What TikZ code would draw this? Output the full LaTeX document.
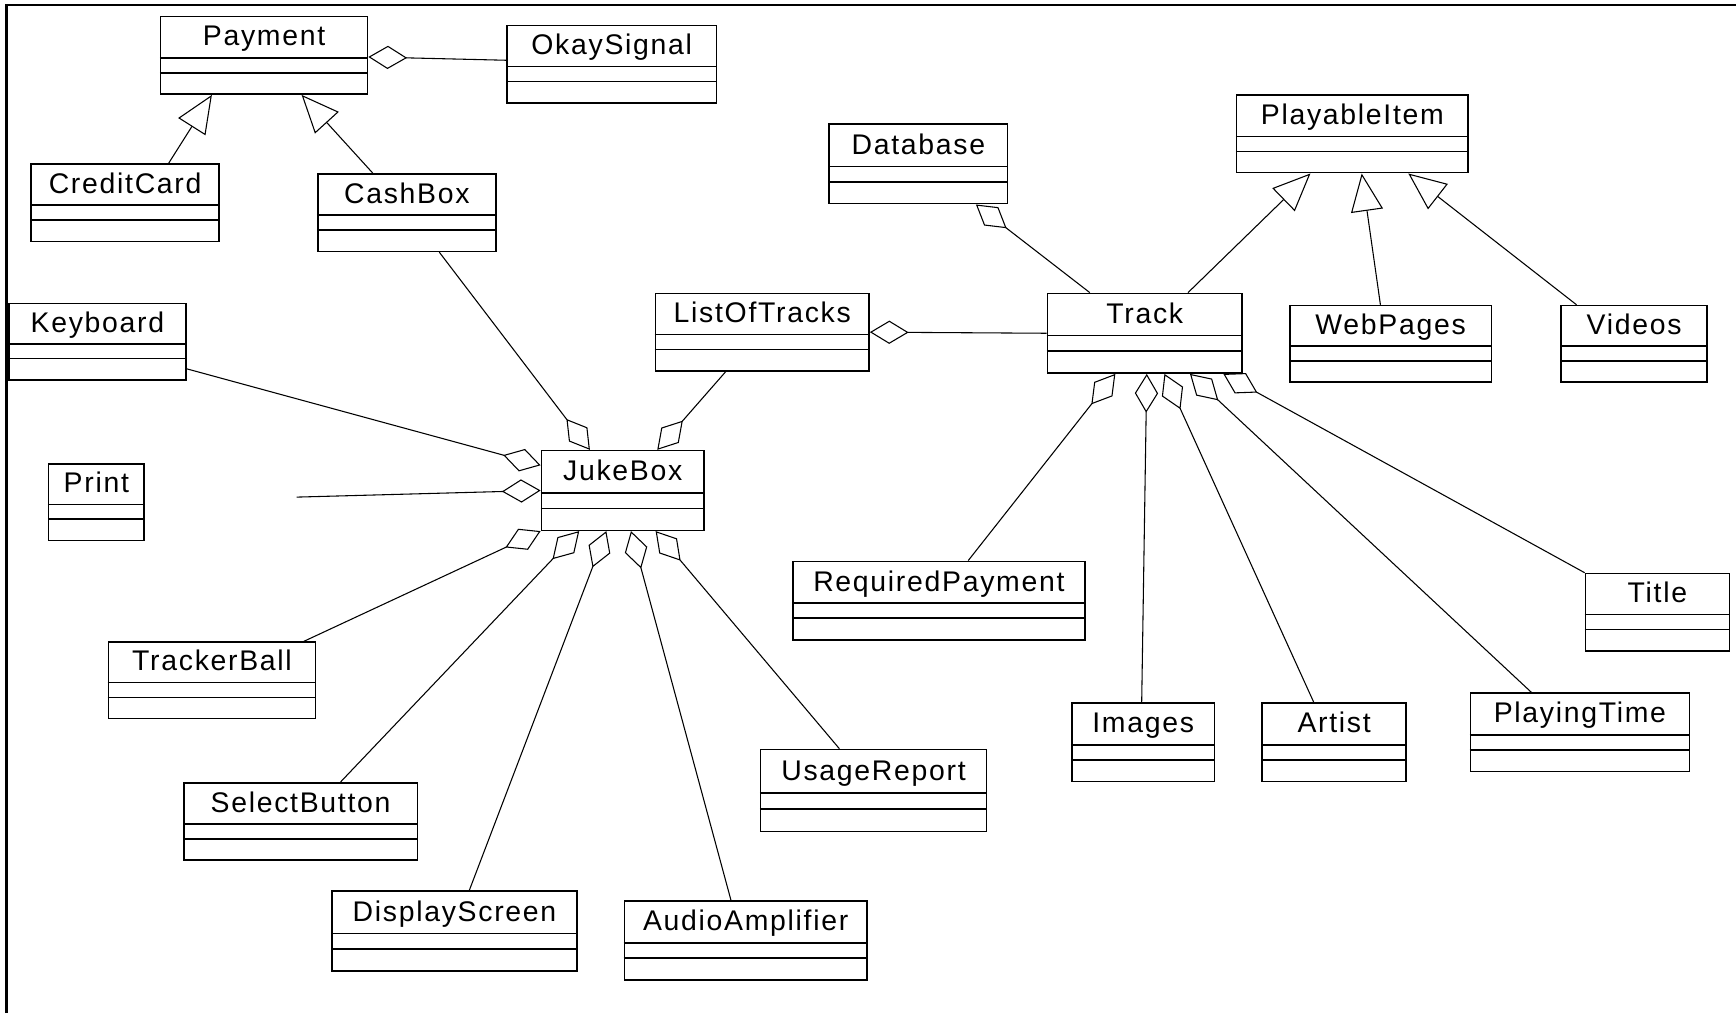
\documentclass[tikz,border=0pt]{standalone}
\usepackage{fontspec}
\setmainfont{Liberation Sans}[LetterSpace=6]
\usetikzlibrary{arrows.meta,calc,fit}

\tikzset{
  classbox/.style={draw, line width=0.8pt, inner sep=0pt},
  classline/.style={line width=0.8pt},
  classname/.style={anchor=base, inner sep=0pt, font=\fontsize{14.6}{17}\selectfont},
  assoc/.style={line width=0.55pt},
  aggr/.style={assoc, {Diamond[open, length=7mm, width=4.2mm, line width=0.55pt]}-},
  gen/.style={assoc, -{Triangle[open, length=6.8mm, width=5.8mm, line width=0.55pt]}},
  frameline/.style={line width=1.3pt}
}

% class box: id, x1, y1, x2, y2, name
\newcommand\umlclass[6]{%
  \node[classbox, fit={(#2,#3) (#4,#5)}] (#1) {};
  \draw[classline] ($(#1.north west)!0.53!(#1.south west)$) -- ($(#1.north east)!0.53!(#1.south east)$);
  \draw[classline] ($(#1.north west)!0.72!(#1.south west)$) -- ($(#1.north east)!0.72!(#1.south east)$);
  \node[classname] (#1-name) at ($(#1.north)!0.38!(#1.south)$) {#6};
}

\begin{document}
\begin{tikzpicture}[x=0.2mm, y=-0.2mm]
\useasboundingbox (0,0) rectangle (1568,915);
\fill[white] (0,0) rectangle (1568,915);

% outer frame (left and top edges)
\draw[frameline] (6,915) -- (6,4.5) -- (1568,4.5);

% classes
\umlclass{Payment}{145}{15}{332}{85}{Payment}
\umlclass{OkaySignal}{458}{23}{647}{93}{OkaySignal}
\umlclass{CreditCard}{28}{148}{198}{218}{CreditCard}
\umlclass{CashBox}{287}{157}{448}{227}{CashBox}
\umlclass{Keyboard}{8}{274}{168}{343}{Keyboard}
\umlclass{Print}{44}{419}{130}{488}{Print}
\umlclass{ListOfTracks}{592}{265}{785}{335}{ListOfTracks}
\umlclass{JukeBox}{489}{407}{636}{479}{JukeBox}
\umlclass{Database}{749}{112}{910}{184}{Database}
\umlclass{PlayableItem}{1117}{86}{1326}{156}{PlayableItem}
\umlclass{Track}{946}{265}{1122}{337}{Track}
\umlclass{WebPages}{1165}{276}{1347}{345}{WebPages}
\umlclass{Videos}{1410}{276}{1542}{345}{Videos}
\umlclass{RequiredPayment}{716}{507}{980}{578}{RequiredPayment}
\umlclass{Title}{1432}{518}{1562}{588}{Title}
\umlclass{Images}{968}{635}{1097}{706}{Images}
\umlclass{Artist}{1140}{635}{1270}{706}{Artist}
\umlclass{PlayingTime}{1328}{626}{1526}{697}{PlayingTime}
\umlclass{TrackerBall}{98}{580}{285}{649}{TrackerBall}
\umlclass{SelectButton}{166}{707}{377}{777}{SelectButton}
\umlclass{DisplayScreen}{300}{805}{521}{877}{DisplayScreen}
\umlclass{AudioAmplifier}{564}{814}{783}{885}{AudioAmplifier}
\umlclass{UsageReport}{687}{677}{891}{751}{UsageReport}

% loose end of the unlabelled association into JukeBox
\coordinate (loose) at (268,449);

% generalisations
\draw[gen] ($(CreditCard.north west)!0.73!(CreditCard.north east)$) -- ($(Payment.south west)!0.25!(Payment.south east)$);
\draw[gen] ($(CashBox.north west)!0.31!(CashBox.north east)$) -- ($(Payment.south west)!0.68!(Payment.south east)$);
\draw[gen] ($(Track.north west)!0.72!(Track.north east)$) -- ($(PlayableItem.south west)!0.32!(PlayableItem.south east)$);
\draw[gen] ($(WebPages.north west)!0.45!(WebPages.north east)$) -- ($(PlayableItem.south west)!0.54!(PlayableItem.south east)$);
\draw[gen] ($(Videos.north west)!0.11!(Videos.north east)$) -- ($(PlayableItem.south west)!0.74!(PlayableItem.south east)$);

% aggregations around Payment
\draw[aggr] ($(Payment.north east)!0.52!(Payment.south east)$) -- ($(OkaySignal.north west)!0.45!(OkaySignal.south west)$);

% aggregations around JukeBox
\draw[aggr] ($(JukeBox.north west)!0.30!(JukeBox.north east)$) -- ($(CashBox.south west)!0.68!(CashBox.south east)$);
\draw[aggr] ($(JukeBox.north west)!0.71!(JukeBox.north east)$) -- ($(ListOfTracks.south west)!0.33!(ListOfTracks.south east)$);
\draw[aggr] ($(JukeBox.north west)!0.19!(JukeBox.south west)$) -- ($(Keyboard.north east)!0.85!(Keyboard.south east)$);
\draw[aggr] ($(JukeBox.north west)!0.50!(JukeBox.south west)$) -- (loose);
\draw[aggr] (JukeBox.south west) -- ($(TrackerBall.north west)!0.94!(TrackerBall.north east)$);
\draw[aggr] ($(JukeBox.south west)!0.235!(JukeBox.south east)$) -- ($(SelectButton.north west)!0.67!(SelectButton.north east)$);
\draw[aggr] ($(JukeBox.south west)!0.40!(JukeBox.south east)$) -- ($(DisplayScreen.north west)!0.56!(DisplayScreen.north east)$);
\draw[aggr] ($(JukeBox.south west)!0.55!(JukeBox.south east)$) -- ($(AudioAmplifier.north west)!0.44!(AudioAmplifier.north east)$);
\draw[aggr] ($(JukeBox.south west)!0.70!(JukeBox.south east)$) -- ($(UsageReport.north west)!0.35!(UsageReport.north east)$);

% aggregations around Track
\draw[aggr] ($(ListOfTracks.north east)!0.5!(ListOfTracks.south east)$) -- ($(Track.north west)!0.5!(Track.south west)$);
\draw[aggr] ($(Database.south west)!0.82!(Database.south east)$) -- ($(Track.north west)!0.22!(Track.north east)$);
\draw[aggr] ($(Track.south west)!0.35!(Track.south east)$) -- ($(RequiredPayment.north west)!0.60!(RequiredPayment.north east)$);
\draw[aggr] ($(Track.south west)!0.51!(Track.south east)$) -- ($(Images.north west)!0.49!(Images.north east)$);
\draw[aggr] ($(Track.south west)!0.60!(Track.south east)$) -- ($(Artist.north west)!0.36!(Artist.north east)$);
\draw[aggr] ($(Track.south west)!0.73!(Track.south east)$) -- ($(PlayingTime.north west)!0.28!(PlayingTime.north east)$);
\draw[aggr] ($(Track.south west)!0.90!(Track.south east)$) -- (Title.north west);
\end{tikzpicture}
\end{document}
